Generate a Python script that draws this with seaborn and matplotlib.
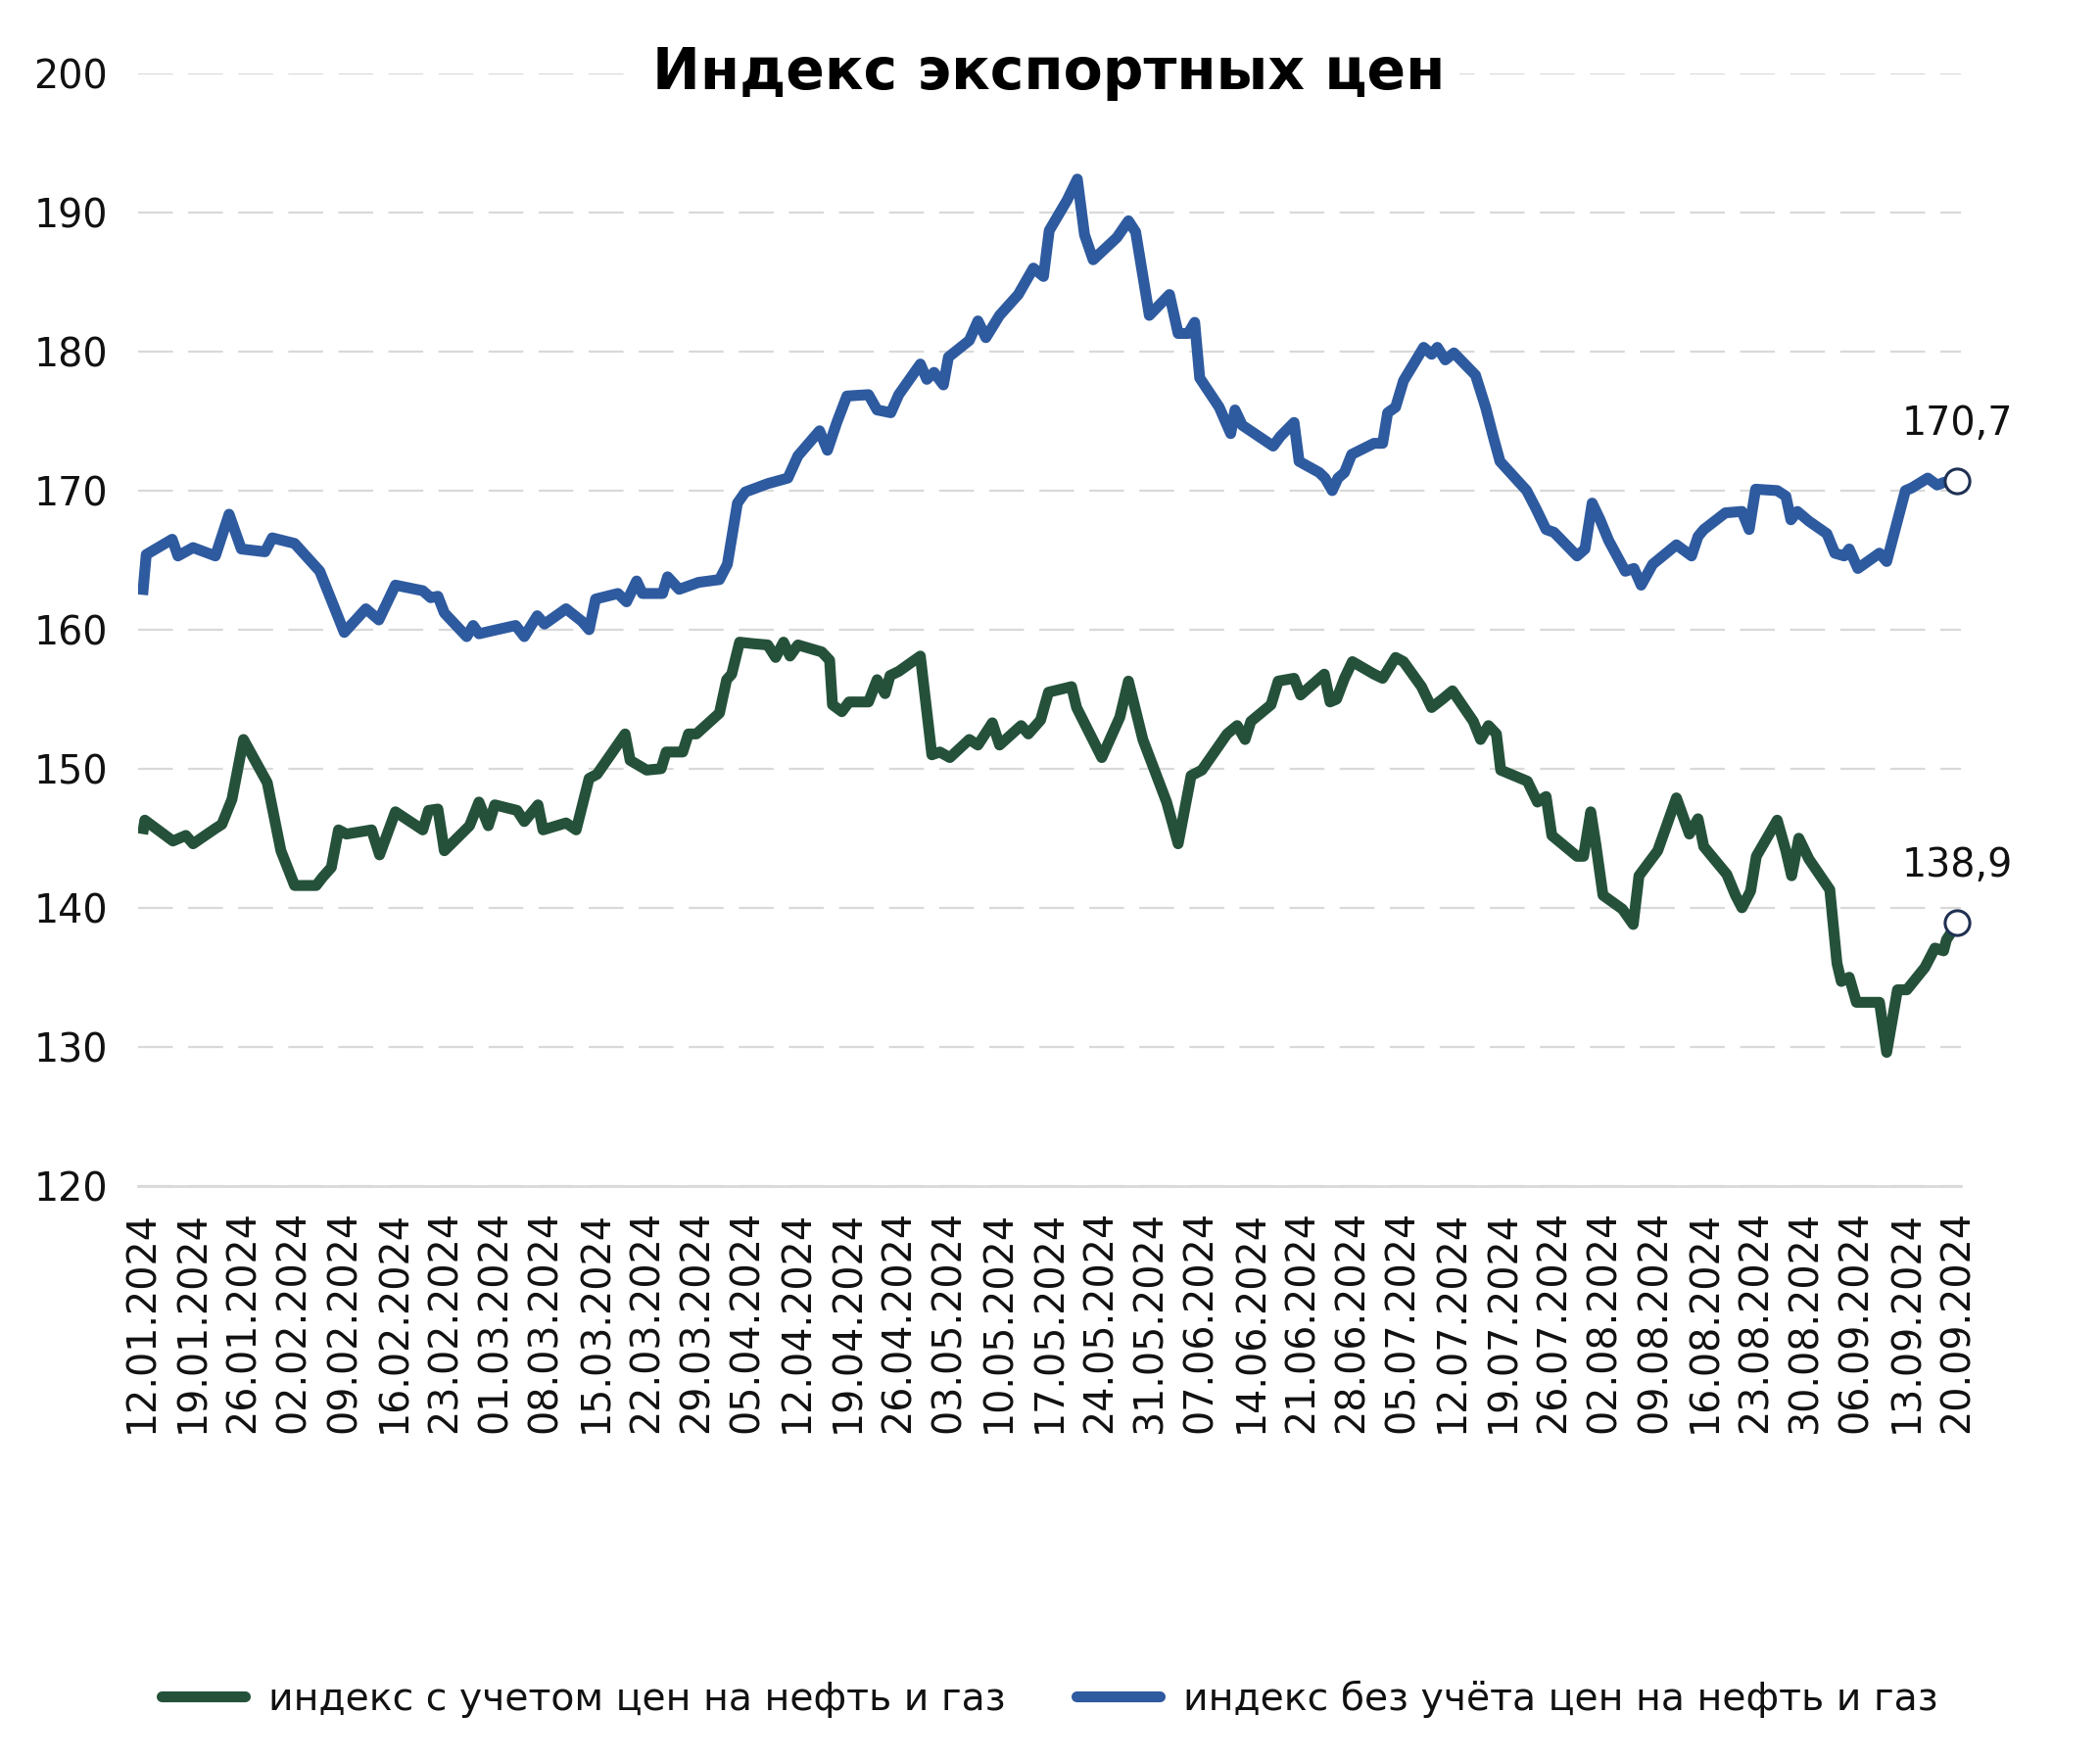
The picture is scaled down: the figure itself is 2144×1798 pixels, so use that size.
import matplotlib.pyplot as plt
import matplotlib.lines as mlines
import numpy as np
import pandas as pd
import seaborn as sns

# Dates: days counted from 12.01.2024, tick every week up to 20.09.2024
start_date = pd.Timestamp('2024-01-12')
tick_days = list(range(0, 253, 7))

green_label = 'индекс с учетом цен на нефть и газ'
blue_label = 'индекс без учёта цен на нефть и газ'

green_days = [0, 0.3, 4.2, 6.0, 7.0, 10.1, 11.0, 12.4, 14.0, 17.3,
              19.2, 21.1, 24.1, 25.0, 26.2, 27.2, 28.3, 31.8, 32.9, 35.1,
              38.9, 39.7, 41.0, 41.9, 45.4, 46.7, 48.0, 48.9, 52.0, 53.0,
              54.9, 55.6, 58.8, 60.2, 62.0, 63.1, 67.0, 67.7, 70.0, 72.0,
              72.7, 75.0, 75.8, 76.9, 80.1, 81.1, 81.8, 82.9, 84.6, 86.8,
              87.9, 89.0, 89.9, 91.0, 94.3, 95.4, 95.8, 97.1, 98.1, 100.8,
              102.0, 103.1, 103.8, 105.0, 108.0, 109.6, 110.7, 112.1, 114.8, 116.0,
              118.0, 119.0, 122.0, 123.0, 124.7, 125.8, 129.0, 129.7, 133.2, 135.7,
              136.9, 138.9, 142.2, 143.8, 145.6, 147.1, 150.6, 152.0, 153.1, 153.9,
              156.7, 157.7, 159.9, 160.8, 164.1, 164.9, 165.8, 166.9, 168.0, 171.0,
              172.2, 174.0, 175.1, 177.6, 179.0, 180.5, 181.9, 184.8, 185.8, 186.9,
              188.0, 188.6, 192.3, 193.7, 194.9, 195.7, 199.2, 200.1, 201.1, 201.8,
              202.8, 205.5, 207.0, 207.8, 210.4, 213.0, 214.8, 216.0, 216.8, 220.0,
              221.2, 222.1, 223.3, 224.1, 227.0, 228.2, 229.0, 230.0, 231.4, 234.3,
              235.3, 235.9, 237.0, 238.0, 241.2, 242.2, 243.7, 245.0, 247.5, 248.9,
              250.1, 250.5, 252]
green_vals = [145.3, 146.3, 144.8, 145.2, 144.6, 145.7, 146.0, 147.8, 152.1, 149.0,
              144.1, 141.6, 141.6, 142.2, 142.9, 145.6, 145.3, 145.6, 143.8, 146.9,
              145.6, 147.0, 147.1, 144.1, 145.9, 147.6, 145.9, 147.4, 147.0, 146.2,
              147.4, 145.6, 146.1, 145.6, 149.3, 149.6, 152.5, 150.6, 149.9, 150.0,
              151.2, 151.2, 152.5, 152.5, 154.0, 156.4, 156.8, 159.1, 159.0, 158.9,
              158.0, 159.1, 158.1, 158.9, 158.4, 157.8, 154.6, 154.1, 154.8, 154.8,
              156.4, 155.4, 156.7, 157.0, 158.1, 151.0, 151.2, 150.8, 152.1, 151.7,
              153.3, 151.7, 153.1, 152.5, 153.5, 155.5, 155.9, 154.4, 150.8, 153.7,
              156.3, 152.1, 147.6, 144.6, 149.5, 149.9, 152.5, 153.1, 152.1, 153.4,
              154.6, 156.3, 156.5, 155.3, 156.8, 154.8, 155.0, 156.5, 157.7, 156.8,
              156.5, 158.0, 157.7, 155.9, 154.4, 155.0, 155.6, 153.4, 152.1, 153.1,
              152.5, 149.9, 149.1, 147.6, 148.0, 145.2, 143.7, 143.7, 146.9, 144.6,
              140.9, 139.9, 138.8, 142.3, 144.1, 147.9, 145.3, 146.4, 144.4, 142.4,
              140.9, 140.0, 141.2, 143.7, 146.3, 144.1, 142.3, 145.0, 143.5, 141.3,
              136.0, 134.7, 135.0, 133.2, 133.2, 129.6, 134.1, 134.1, 135.7, 137.1,
              136.9, 137.7, 138.9]

blue_days = [0, 0.5, 4.1, 4.9, 7.0, 10.1, 12.0, 13.7, 17.0, 18.0,
             21.1, 24.6, 28.0, 31.0, 32.8, 35.1, 38.9, 40.0, 41.0, 41.9,
             45.0, 45.9, 46.7, 49.2, 51.8, 53.0, 54.8, 55.8, 58.8, 61.0,
             62.0, 62.9, 66.0, 67.2, 68.6, 69.4, 72.2, 72.9, 74.5, 77.2,
             80.1, 81.2, 82.6, 83.7, 86.8, 89.6, 91.0, 94.0, 95.1, 96.4,
             97.8, 100.8, 102.0, 103.9, 105.0, 108.0, 108.9, 109.9, 111.2, 111.9,
             114.8, 116.0, 117.1, 119.0, 121.6, 123.7, 125.1, 125.9, 128.4, 129.8,
             130.8, 132.0, 135.3, 136.9, 137.9, 139.8, 142.6, 143.8, 145.2, 146.1,
             146.8, 149.5, 151.1, 151.7, 152.7, 157.0, 158.0, 159.9, 160.6, 163.4,
             164.2, 165.2, 166.0, 166.9, 167.9, 171.0, 172.2, 172.9, 174.0, 175.1,
             177.9, 179.0, 179.8, 180.9, 182.1, 185.1, 186.5, 187.6, 188.5, 192.2,
             193.5, 194.9, 196.0, 199.2, 200.3, 201.3, 202.4, 203.6, 205.9, 207.1,
             208.1, 209.7, 213.0, 215.1, 216.0, 216.8, 219.8, 222.1, 223.1, 224.0,
             227.0, 228.2, 228.9, 229.8, 231.4, 233.9, 235.0, 236.3, 237.0, 238.2,
             241.2, 242.2, 244.8, 245.7, 247.9, 249.2, 250.2, 252]
blue_vals = [162.5, 165.4, 166.5, 165.3, 165.9, 165.3, 168.3, 165.8, 165.6, 166.6,
             166.2, 164.2, 159.8, 161.5, 160.7, 163.2, 162.8, 162.3, 162.4, 161.2,
             159.5, 160.3, 159.7, 160.0, 160.3, 159.5, 161.0, 160.4, 161.5, 160.6,
             160.0, 162.2, 162.6, 162.0, 163.5, 162.6, 162.6, 163.8, 162.9, 163.4,
             163.6, 164.7, 169.1, 169.9, 170.5, 170.9, 172.5, 174.3, 172.9, 174.9,
             176.8, 176.9, 175.8, 175.6, 176.9, 179.1, 178.0, 178.5, 177.6, 179.6,
             180.8, 182.2, 181.0, 182.6, 184.1, 186.0, 185.4, 188.7, 190.9, 192.4,
             188.4, 186.6, 188.2, 189.4, 188.6, 182.6, 184.1, 181.3, 181.3, 182.1,
             178.1, 176.0, 174.1, 175.8, 174.7, 173.2, 173.9, 174.9, 172.1, 171.3,
             170.9, 170.0, 170.9, 171.3, 172.6, 173.4, 173.4, 175.6, 176.0, 177.9,
             180.3, 179.8, 180.3, 179.4, 179.9, 178.3, 176.0, 173.8, 172.1, 170.0,
             168.7, 167.2, 167.0, 165.3, 165.8, 169.1, 167.9, 166.4, 164.2, 164.4,
             163.2, 164.7, 166.1, 165.3, 166.7, 167.2, 168.4, 168.5, 167.2, 170.1,
             170.0, 169.6, 167.9, 168.5, 167.8, 166.9, 165.5, 165.3, 165.8, 164.4,
             165.5, 164.9, 170.0, 170.2, 170.9, 170.4, 170.6, 170.7]

green_color = '#25513B'
blue_color = '#2E5A9F'
grid_color = '#D9D9D9'

sns.set_theme(style='white')
plt.rcParams['font.family'] = ['DejaVu Sans']

df = pd.concat([
    pd.DataFrame({'day': green_days, 'value': green_vals, 'series': green_label}),
    pd.DataFrame({'day': blue_days, 'value': blue_vals, 'series': blue_label}),
])

fig = plt.figure(figsize=(21.44, 17.98), dpi=100)
ax = fig.add_axes([0.0656, 0.3266, 0.868, 0.6317])

sns.lineplot(data=df, x='day', y='value', hue='series',
             palette={green_label: green_color, blue_label: blue_color},
             estimator=None, sort=False, linewidth=8, legend=False, ax=ax)
for line in ax.lines:
    line.set_solid_joinstyle('round')
    line.set_solid_capstyle('butt')

# last points with values
for days, vals in [(blue_days, blue_vals), (green_days, green_vals)]:
    ax.scatter([days[-1]], [vals[-1]], s=330, facecolor='white',
               edgecolor='#1F3152', linewidth=2.2, zorder=5, clip_on=False)
    ax.annotate(f'{vals[-1]:.1f}'.replace('.', ','), (days[-1], vals[-1]),
                xytext=(0, 42), textcoords='offset points',
                ha='center', va='center', fontsize=28.5, color='#111111')

ax.set_xlim(-0.68, 252.46)
ax.set_ylim(120, 200)
ax.set_yticks(range(120, 201, 10))
ax.set_xticks(tick_days)
ax.set_xticklabels([(start_date + pd.Timedelta(days=d)).strftime('%d.%m.%Y')
                    for d in tick_days], rotation=90)
ax.set_xlabel('')
ax.set_ylabel('')
ax.tick_params(axis='both', length=0, labelsize=28.5, labelcolor='#111111')
ax.tick_params(axis='x', pad=18)
ax.tick_params(axis='y', pad=22)

for s in ['top', 'right', 'left']:
    ax.spines[s].set_visible(False)
ax.spines['bottom'].set_color(grid_color)
ax.spines['bottom'].set_linewidth(2)

ax.yaxis.grid(True, color=grid_color, linestyle=(0, (16, 7)), linewidth=1.6)
ax.xaxis.grid(False)
ax.set_axisbelow(True)

ax.text(0.5, 1.0, 'Индекс экспортных цен', transform=ax.transAxes,
        ha='center', va='center', fontsize=42, fontweight='bold', color='black',
        bbox=dict(facecolor='white', edgecolor='none', pad=10), zorder=6)

handles = [mlines.Line2D([], [], color=green_color, linewidth=8, solid_capstyle='round'),
           mlines.Line2D([], [], color=blue_color, linewidth=8, solid_capstyle='round')]
fig.legend(handles, [green_label, blue_label], loc='center',
           bbox_to_anchor=(0.5, 0.035), ncol=2, frameon=False, fontsize=28.4,
           handlelength=2.15, handletextpad=0.6, columnspacing=1.85,
           labelcolor='#111111')

fig.savefig('out.png', dpi=100)
